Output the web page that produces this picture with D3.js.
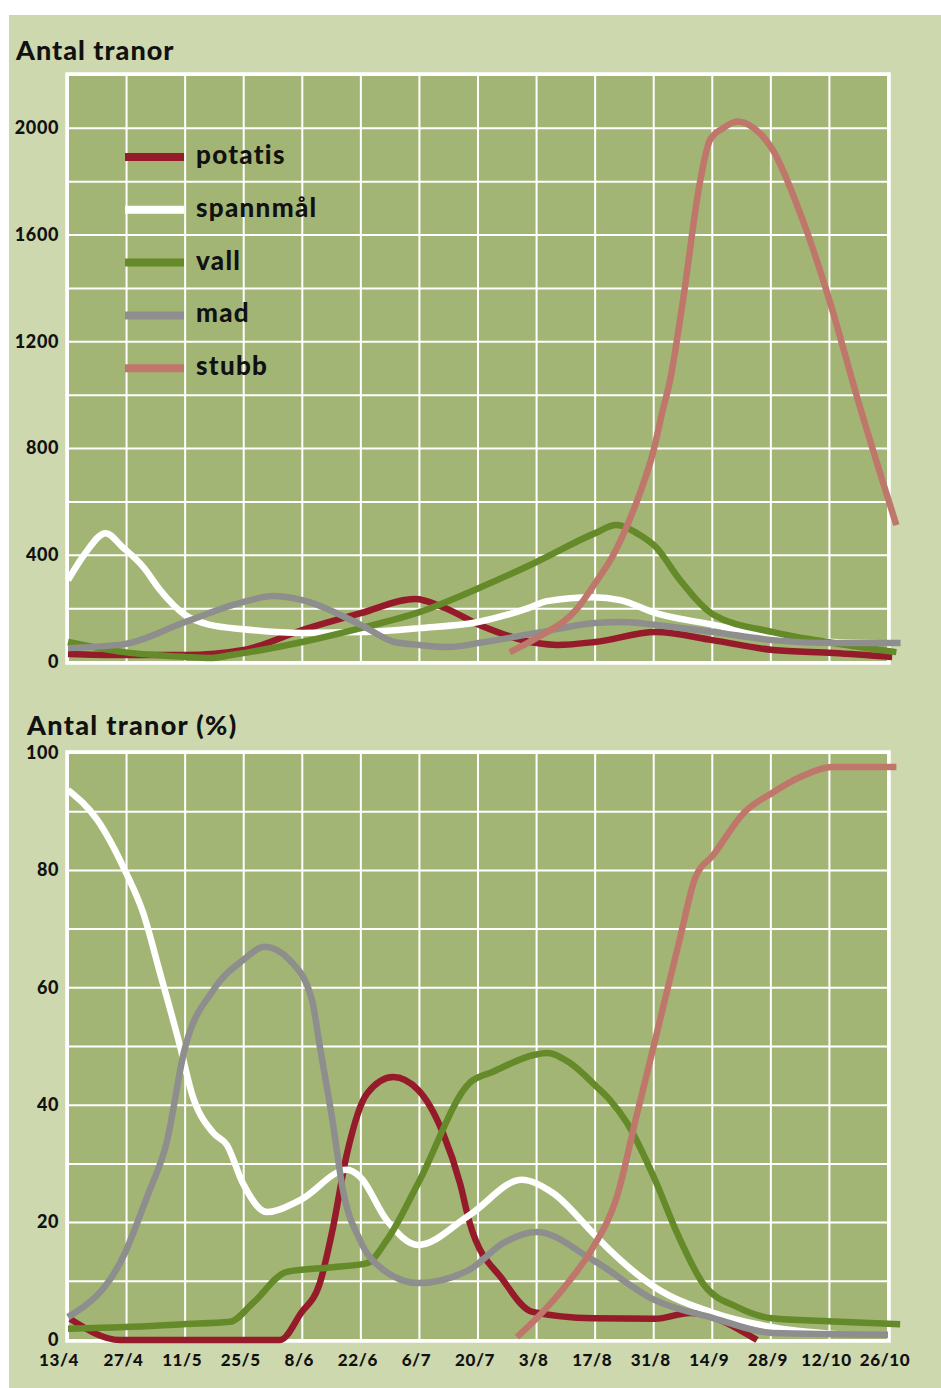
<!DOCTYPE html>
<html lang="sv">
<head>
  <meta charset="UTF-8">
  <title>Antal tranor</title>
  <script src="https://cdn.jsdelivr.net/npm/d3@7"></script>
  <style>
    body { margin: 0; background: #fff; font-family: Lato, sans-serif; }
    svg text { font-family: Lato, sans-serif; font-weight: 900; fill: #111; }
  </style>
</head>
<body>
  <script>
    // categories and tick labels
    const categories = ["potatis", "spannmål", "vall", "mad", "stubb"];
    const xTickLabels = ["13/4", "27/4", "11/5", "25/5", "8/6", "22/6", "6/7", "20/7",
                         "3/8", "17/8", "31/8", "14/9", "28/9", "12/10", "26/10"];
    const countTicks = [0, 400, 800, 1200, 1600, 2000];
    const pctTicks = [0, 20, 40, 60, 80, 100];

    // number of cranes, [days since 13/4, count]
    const potatisCount = [[0, 30], [13, 26], [28, 26], [42, 45], [56, 120], [70, 183], [83, 236],
      [89.5, 206], [98.5, 138], [112, 71], [117, 64], [126, 75], [140.5, 112], [154, 82],
      [168.5, 45], [183, 34], [197, 19]];
    const spannmalCount = [[0, 307], [4, 405], [9, 483], [13, 431], [18, 356], [22, 270], [28, 176],
      [34, 139], [42, 123], [56, 109], [70, 112], [84, 127], [98, 150], [110, 202], [114.5, 228],
      [125.5, 243], [132, 232], [140.5, 183], [154.4, 139], [168.5, 94], [183, 75], [194, 70]];
    const vallCount = [[0, 75], [13.4, 37], [28, 19], [34, 15], [39, 26], [56, 75], [70, 127],
      [84, 187], [98.5, 279], [112, 375], [126, 483], [131, 513], [136.7, 476], [140.5, 431],
      [146.3, 307], [154.4, 176], [168.5, 112], [183, 71], [198, 37]];
    const madCount = [[0, 52], [13.4, 67], [28, 150], [42, 225], [49, 247], [56, 232], [70, 139],
      [78, 75], [84, 64], [91, 56], [98.5, 72], [112, 109], [126, 146], [132.6, 150],
      [140.5, 139], [154.4, 112], [168.5, 82], [183, 71], [199, 71]];
    const stubbCount = [[105.6, 37], [112, 90], [121.7, 200], [126.2, 300], [130.3, 400],
      [133.6, 510], [136.7, 633], [139.8, 783], [142, 933], [143.9, 1056], [147, 1356],
      [151, 1794], [153.4, 1955], [156.5, 2000], [160, 2026], [163.7, 2004], [168.5, 1918],
      [175, 1682], [182, 1356], [188.6, 993], [198, 513]];

    // share of cranes (%), [days since 13/4, percent]
    const potatisPct = [[0.5, 3.6], [12.4, 0], [50.7, 0], [55.7, 4.6], [60.2, 9.7], [63.3, 19],
      [66.7, 31.8], [71.5, 42], [77.7, 44.8], [83.7, 42.6], [89.6, 35.3], [93.7, 26.7],
      [96, 20], [104, 10.2], [111, 4.8], [125.5, 3.7], [140.3, 3.6], [148.7, 4.6], [164.7, 0]];
    const spannmalPct = [[0, 93.7], [7, 88.6], [13.6, 80], [18, 72.7], [22, 62.5], [26.8, 50],
      [29.6, 42], [34.7, 35.3], [38, 33.2], [41.8, 26.7], [47.6, 21.8], [55.4, 23.8], [66.7, 29],
      [69.8, 27.8], [76.2, 20.4], [83.7, 16.2], [96, 21.3], [108.5, 27.3], [116, 25],
      [125.5, 18.2], [129.5, 15.3], [140.3, 9], [154.4, 4.6], [168.3, 2.2], [183.8, 1]];
    const vallPct = [[0, 1.9], [13.6, 2.2], [27.5, 2.7], [38.7, 3.1], [44.2, 6.3], [52.3, 11.6],
      [63.3, 12.4], [71.5, 13.1], [76.2, 17], [83.7, 26.7], [96, 43.8], [101.6, 45.7],
      [111.6, 48.6], [114.5, 48.9], [120, 47.2], [126.4, 43.1], [129.5, 40.9], [133.6, 37],
      [140.3, 27.3], [145.6, 18.2], [152, 9.4], [160, 5.6], [168.3, 3.7], [181.6, 3.2],
      [198.9, 2.7]];
    const madPct = [[0, 3.9], [13.6, 14.8], [18.9, 24.4], [23.7, 34], [27.7, 49], [34.7, 59.6],
      [41.8, 64.7], [47, 67], [53, 64.7], [58.3, 58], [60.2, 50], [63.3, 37], [65.7, 25.6],
      [69.8, 17], [75.3, 12], [83.7, 9.7], [96, 12], [104, 16.5], [112, 18.4], [125.5, 13.6],
      [140.3, 6.8], [154.4, 3.7], [168.3, 1.2], [196, 0.9]];
    const stubbPct = [[107.3, 0.5], [111.6, 3.4], [120, 10.2], [125.5, 15.8], [131.2, 24.4],
      [136, 38.5], [138.6, 46], [143.2, 59.5], [146.3, 68.5], [149.9, 78.7], [154.2, 82.6],
      [161.8, 90], [168.3, 93.2], [175, 95.9], [182.8, 97.6], [198, 97.6]];

    const colors = ["#951b2b", "#ffffff", "#658a29", "#8d8e8d", "#c0776b"];
    const countSeries = [potatisCount, spannmalCount, vallCount, madCount, stubbCount];
    const pctSeries = [potatisPct, spannmalPct, vallPct, madPct, stubbPct];
    const drawOrder = [0, 1, 2, 3, 4];

    const width = 941, height = 1388;
    const plotBg = "#a3b575", panelBg = "#cdd8ae";

    const svg = d3.select("body").append("svg")
        .attr("width", width)
        .attr("height", height);

    svg.append("rect")
        .attr("x", 9).attr("y", 15)
        .attr("width", width - 9).attr("height", height - 15)
        .attr("fill", panelBg);

    const x = d3.scaleLinear().domain([0, 196]).range([68, 888]);
    const xTicks = d3.range(0, 197, 14);

    function chart(y, gridStep, ticks, series) {
      const [y0, y1] = y.range();
      const g = svg.append("g");

      g.append("rect")
          .attr("x", x(0)).attr("y", y1)
          .attr("width", x(196) - x(0)).attr("height", y0 - y1)
          .attr("fill", plotBg);

      g.append("g")
          .attr("stroke", "#fff")
          .attr("stroke-width", 2)
        .selectAll("line")
        .data(xTicks)
        .join("line")
          .attr("x1", d => x(d)).attr("x2", d => x(d))
          .attr("y1", y1).attr("y2", y0);

      g.append("g")
          .attr("stroke", "#fff")
          .attr("stroke-width", 2)
        .selectAll("line")
        .data(d3.range(0, y.domain()[1] + 1e-9, gridStep))
        .join("line")
          .attr("x1", x(0)).attr("x2", x(196))
          .attr("y1", d => y(d)).attr("y2", d => y(d));

      g.append("rect")
          .attr("x", x(0) - 1).attr("y", y1 - 1)
          .attr("width", x(196) - x(0) + 2).attr("height", y0 - y1 + 2)
          .attr("fill", "none")
          .attr("stroke", "#fff")
          .attr("stroke-width", 3.5);

      g.append("g")
        .selectAll("text")
        .data(ticks)
        .join("text")
          .attr("x", 59)
          .attr("y", d => y(d))
          .attr("dy", "0.32em")
          .attr("text-anchor", "end")
          .attr("font-size", 18)
          .attr("letter-spacing", 0.6)
          .text(d => d);

      const line = d3.line()
          .x(d => x(d[0]))
          .y(d => y(d[1]))
          .curve(d3.curveMonotoneX);

      g.append("g")
          .attr("fill", "none")
          .attr("stroke-width", 6.5)
          .attr("stroke-linejoin", "round")
        .selectAll("path")
        .data(drawOrder)
        .join("path")
          .attr("stroke", i => colors[i])
          .attr("d", i => line(series[i]));
      return g;
    }

    // top chart: number of cranes
    const yCount = d3.scaleLinear().domain([0, 2200]).range([662, 75]);
    chart(yCount, 200, countTicks, countSeries);

    svg.append("text")
        .attr("x", 16).attr("y", 60)
        .attr("font-size", 27)
        .attr("letter-spacing", 1)
        .text("Antal tranor");

    const legend = svg.append("g")
      .selectAll("g")
      .data(categories)
      .join("g")
        .attr("transform", (d, i) => `translate(125,${157 + i * 52.8})`);
    legend.append("line")
        .attr("x1", 0).attr("x2", 59)
        .attr("stroke", (d, i) => colors[i])
        .attr("stroke-width", 8);
    legend.append("text")
        .attr("x", 71).attr("y", 7)
        .attr("font-size", 26)
        .attr("letter-spacing", 1.3)
        .text(d => d);

    // bottom chart: share of cranes
    const yPct = d3.scaleLinear().domain([0, 100]).range([1340, 753]);
    chart(yPct, 10, pctTicks, pctSeries);

    svg.append("text")
        .attr("x", 27).attr("y", 735)
        .attr("font-size", 27)
        .attr("letter-spacing", 1.3)
        .text("Antal tranor (%)");

    svg.append("g")
      .selectAll("text")
      .data(xTicks)
      .join("text")
        .attr("x", (d, i) => x(d) - (i === 0 ? 9 : 3))
        .attr("y", 1366)
        .attr("text-anchor", "middle")
        .attr("font-size", 17)
        .attr("letter-spacing", 0.6)
        .text((d, i) => xTickLabels[i]);
  </script>
</body>
</html>
